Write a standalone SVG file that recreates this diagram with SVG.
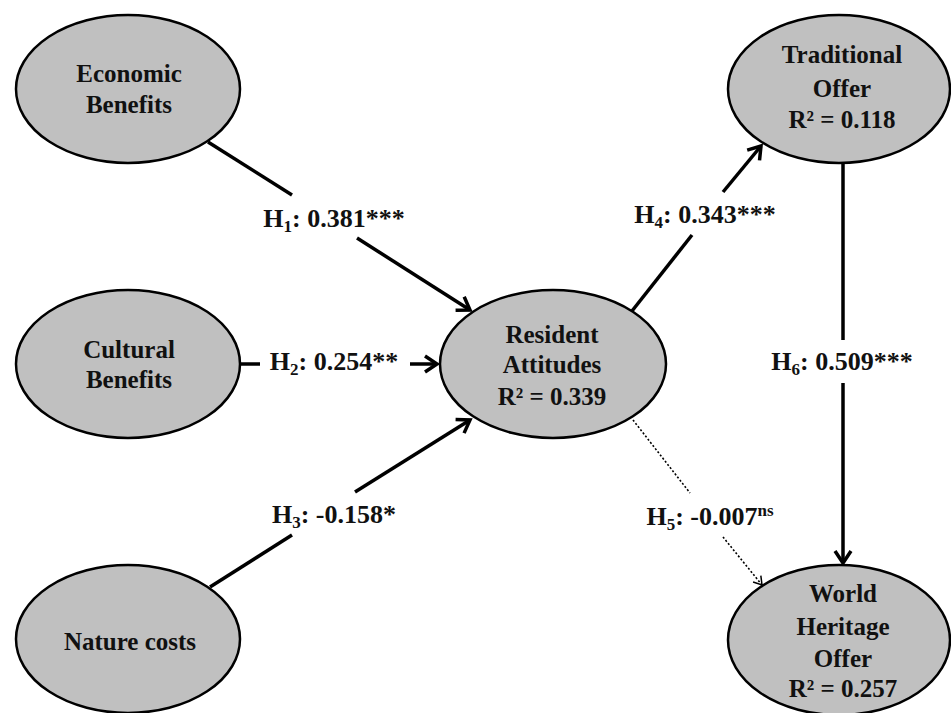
<svg xmlns="http://www.w3.org/2000/svg" width="951" height="713" viewBox="0 0 951 713">
<style>
.node ellipse{fill:#c0c0c0;stroke:#000;stroke-width:2.5}
.nt{font-family:"Liberation Serif","Times New Roman",serif;font-weight:bold;font-size:25px;text-anchor:middle;fill:#111}
.lb{font-family:"Liberation Serif","Times New Roman",serif;font-weight:bold;font-size:26px;text-anchor:middle;fill:#111}
.sub{font-size:17px}
.solid{stroke:#000;stroke-width:3.5;fill:none}
.dot{stroke:#000;stroke-width:1.6;fill:none;stroke-dasharray:2 2}
</style>
<defs>
<marker id="ah" markerUnits="userSpaceOnUse" viewBox="-16 -12 20 24" markerWidth="20" markerHeight="24" refX="0" refY="0" orient="auto">
<path d="M-12,-8 L0,0 L-12,8" fill="none" stroke="#000" stroke-width="3.5"/>
</marker>
<marker id="ahs" markerUnits="userSpaceOnUse" viewBox="-12 -8 14 16" markerWidth="14" markerHeight="16" refX="0" refY="0" orient="auto">
<path d="M-8,-5 L0,0 L-8,5" fill="none" stroke="#000" stroke-width="1.5"/>
</marker>
</defs>
<rect width="951" height="713" fill="#fff"/>
<g id="connectors">
<line class="solid" x1="208" y1="142" x2="292" y2="195"/>
<line class="solid" x1="357" y1="238" x2="470" y2="310" marker-end="url(#ah)"/>
<line class="solid" x1="240" y1="364" x2="260" y2="364"/>
<line class="solid" x1="410" y1="364" x2="437" y2="364" marker-end="url(#ah)"/>
<line class="solid" x1="210" y1="587" x2="292" y2="535"/>
<line class="solid" x1="355" y1="492" x2="470" y2="420" marker-end="url(#ah)"/>
<line class="solid" x1="632" y1="311" x2="692" y2="235"/>
<line class="solid" x1="723" y1="192" x2="761" y2="146" marker-end="url(#ah)"/>
<line class="solid" x1="843" y1="163" x2="843" y2="340"/>
<line class="solid" x1="843" y1="383" x2="843" y2="563" marker-end="url(#ah)"/>
<line class="dot" x1="633" y1="420" x2="690" y2="493"/>
<line class="dot" x1="723" y1="537" x2="762" y2="585" marker-end="url(#ahs)"/>
<text class="lb" x="334" y="227">H<tspan class="sub" dy="5">1</tspan><tspan dy="-5">: 0.381***</tspan></text>
<text class="lb" x="334" y="370">H<tspan class="sub" dy="5">2</tspan><tspan dy="-5">: 0.254**</tspan></text>
<text class="lb" x="334" y="523">H<tspan class="sub" dy="5">3</tspan><tspan dy="-5">: -0.158*</tspan></text>
<text class="lb" x="705" y="223">H<tspan class="sub" dy="5">4</tspan><tspan dy="-5">: 0.343***</tspan></text>
<text class="lb" x="710" y="525">H<tspan class="sub" dy="5">5</tspan><tspan dy="-5">: -0.007</tspan><tspan class="sub" dy="-9">ns</tspan></text>
<text class="lb" x="842" y="370">H<tspan class="sub" dy="5">6</tspan><tspan dy="-5">: 0.509***</tspan></text>
</g>
<g id="economic" class="node">
<ellipse cx="128" cy="89" rx="112" ry="74"/>
<text class="nt" x="129" y="82">Economic</text>
<text class="nt" x="129" y="113">Benefits</text>
</g>
<g id="cultural" class="node">
<ellipse cx="128" cy="364" rx="112" ry="74"/>
<text class="nt" x="129" y="358">Cultural</text>
<text class="nt" x="129" y="388">Benefits</text>
</g>
<g id="nature" class="node">
<ellipse cx="128" cy="639" rx="112" ry="74"/>
<text class="nt" x="130" y="650">Nature costs</text>
</g>
<g id="resident" class="node">
<ellipse cx="553" cy="364" rx="113" ry="74"/>
<text class="nt" x="552" y="343">Resident</text>
<text class="nt" x="552" y="373">Attitudes</text>
<text class="nt" x="552" y="405">R² = 0.339</text>
</g>
<g id="traditional" class="node">
<ellipse cx="839" cy="89" rx="111" ry="74"/>
<text class="nt" x="842" y="63">Traditional</text>
<text class="nt" x="842" y="97">Offer</text>
<text class="nt" x="842" y="128">R² = 0.118</text>
</g>
<g id="worldheritage" class="node">
<ellipse cx="839" cy="640" rx="111" ry="75"/>
<text class="nt" x="843" y="602">World</text>
<text class="nt" x="843" y="635">Heritage</text>
<text class="nt" x="843" y="667">Offer</text>
<text class="nt" x="843" y="697">R² = 0.257</text>
</g>
</svg>
